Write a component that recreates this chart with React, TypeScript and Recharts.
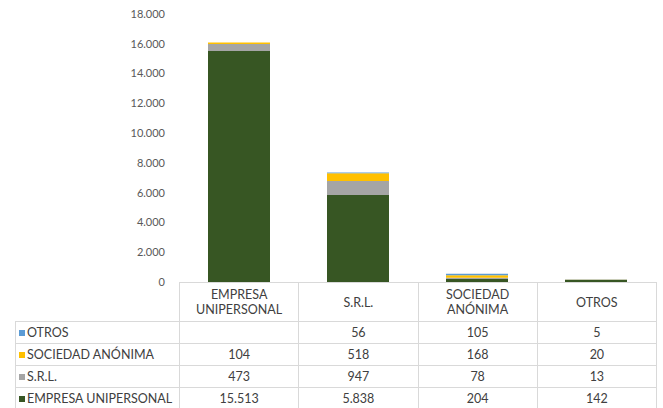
import { BarChart, Bar, XAxis, YAxis } from 'recharts';

// Tipos de sociedad (categorías del eje X)
const categorias = ['EMPRESA UNIPERSONAL', 'S.R.L.', 'SOCIEDAD ANÓNIMA', 'OTROS'];
const etiquetasCabecera = [['EMPRESA', 'UNIPERSONAL'], ['S.R.L.'], ['SOCIEDAD', 'ANÓNIMA'], ['OTROS']];

// Series (apiladas de abajo hacia arriba)
const empresaUnipersonal = [15513, 5838, 204, 142];
const srl = [473, 947, 78, 13];
const sociedadAnonima = [104, 518, 168, 20];
const otros: (number | null)[] = [null, 56, 105, 5];

const ticksY = [0, 2000, 4000, 6000, 8000, 10000, 12000, 14000, 16000, 18000];

const series = [
  { key: 'empresa', nombre: 'EMPRESA UNIPERSONAL', valores: empresaUnipersonal, color: '#375623' },
  { key: 'srl', nombre: 'S.R.L.', valores: srl, color: '#a5a5a5' },
  { key: 'sa', nombre: 'SOCIEDAD ANÓNIMA', valores: sociedadAnonima, color: '#ffc000' },
  { key: 'otros', nombre: 'OTROS', valores: otros, color: '#5b9bd5' },
];

const data = categorias.map((c, i) => {
  const fila: Record<string, string | number | null> = { name: c };
  series.forEach((s) => { fila[s.key] = s.valores[i]; });
  return fila;
});

// 15513 -> "15.513"
const fmt = (v: number | null) =>
  v == null ? '' : String(v).replace(/\B(?=(\d{3})+(?!\d))/g, '.');

const FUENTE = 'Lato, "Noto Sans", sans-serif';
const BORDE = '1px solid #d9d9d9';

export default function App() {
  const colIzq = 164;
  const colAncho = 119.25;
  return (
    <div style={{ position: 'absolute', left: 0, top: 0, width: 663, height: 408, background: '#fff', overflow: 'hidden' }}>
      <BarChart width={663} height={408} data={data} margin={{ top: 14, right: 8, bottom: 126, left: 0 }} barSize={62}>
        <XAxis dataKey="name" hide />
        <YAxis
          width={179}
          domain={[0, 18000]}
          ticks={ticksY}
          tickFormatter={(v) => fmt(v)}
          axisLine={false}
          tickLine={false}
          tickMargin={8}
          tick={{ fontSize: 11, fill: '#595959', fontFamily: FUENTE }}
        />
        {series.map((s) => (
          <Bar key={s.key} dataKey={s.key} stackId="a" fill={s.color} isAnimationActive={false} />
        ))}
      </BarChart>

      {/* Tabla de datos bajo el gráfico */}
      <table
        style={{
          position: 'absolute', left: 15, top: 282, borderCollapse: 'collapse', tableLayout: 'fixed',
          fontFamily: FUENTE, fontSize: 12.5, color: '#404040',
        }}
      >
        <colgroup>
          <col style={{ width: colIzq }} />
          {categorias.map((c) => <col key={c} style={{ width: colAncho }} />)}
        </colgroup>
        <tbody>
          <tr style={{ height: 39 }}>
            <td style={{ padding: 0 }} />
            {etiquetasCabecera.map((lineas, i) => (
              <td key={i} style={{ border: BORDE, textAlign: 'center', padding: 0, lineHeight: '15px' }}>
                {lineas.map((l) => <div key={l}>{l}</div>)}
              </td>
            ))}
          </tr>
          {[...series].reverse().map((s) => (
            <tr key={s.key} style={{ height: 22 }}>
              <td style={{ border: BORDE, padding: '0 0 0 3px', whiteSpace: 'nowrap', lineHeight: '20px' }}>
                <span style={{ display: 'inline-block', width: 6, height: 6, background: s.color, marginRight: 2, verticalAlign: 1 }} />
                {s.nombre}
              </td>
              {s.valores.map((v, i) => (
                <td key={i} style={{ border: BORDE, textAlign: 'center', padding: 0, lineHeight: '20px' }}>{fmt(v)}</td>
              ))}
            </tr>
          ))}
        </tbody>
      </table>
    </div>
  );
}
